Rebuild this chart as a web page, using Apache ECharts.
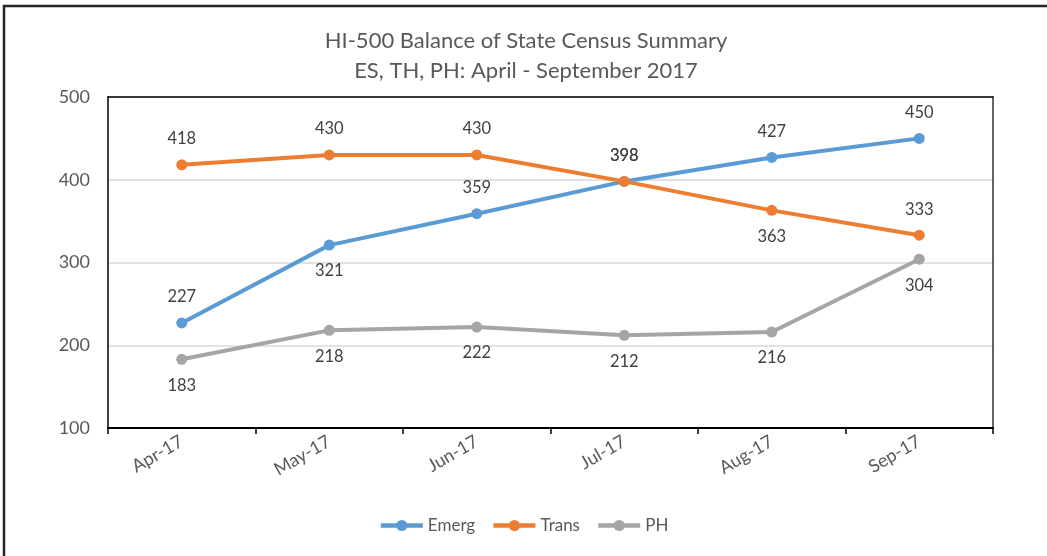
<!DOCTYPE html>
<html>
<head>
<meta charset="utf-8">
<script src="https://cdn.jsdelivr.net/npm/echarts@6/dist/echarts.min.js"></script>
<style>html,body{margin:0;padding:0;background:#fff;}#c{width:1047px;height:556px;}</style>
</head>
<body>
<div id="c"></div>
<script>
const categories = ['Apr-17','May-17','Jun-17','Jul-17','Aug-17','Sep-17'];
const emerg = [227, 321, 359, 398, 427, 450];
const trans = [418, 430, 430, 398, 363, 333];
const ph = [183, 218, 222, 212, 216, 304];
const yTicks = [100, 200, 300, 400, 500];

const emergPos = ['top','bottom','top','top','top','top'];
const transPos = ['top','top','top','top','bottom','top'];
const phPos = ['bottom','bottom','bottom','bottom','bottom','bottom'];

const FONT = 'Lato, "Open Sans", sans-serif';

function mk(name, vals, pos, color) {
  return {
    name: name,
    type: 'line',
    xAxisIndex: 0, yAxisIndex: 0,
    data: vals.map((v, i) => ({ value: v, label: { position: pos[i] } })),
    symbol: 'circle',
    symbolSize: 11,
    lineStyle: { width: 4, color: color },
    itemStyle: { color: color },
    label: { show: true, distance: 12, color: '#404040', fontSize: 16.5, fontFamily: FONT },
    emphasis: { disabled: true },
    animation: false
  };
}

const chart = echarts.init(document.getElementById('c'));
chart.setOption({
  backgroundColor: '#fff',
  animation: false,
  title: {
    text: 'HI-500 Balance of State Census Summary\nES, TH, PH: April - September 2017',
    left: 521, textAlign: 'center', top: 21,
    textStyle: { fontSize: 22, fontWeight: 'normal', color: '#595959', fontFamily: FONT, lineHeight: 30 }
  },
  graphic: [{
    type: 'rect', silent: true,
    shape: { x: 4, y: 6, width: 1200, height: 700 },
    style: { fill: 'none', stroke: '#262626', lineWidth: 2.5 }
  }],
  legend: {
    bottom: 17, left: 'center',
    itemWidth: 42, itemHeight: 14, itemGap: 16,
    lineStyle: { width: 4.5 },
    textStyle: { fontSize: 17, color: '#595959', fontFamily: FONT },
    data: ['Emerg','Trans','PH']
  },
  grid: { left: 108, right: 54, top: 97, bottom: 128, show: false, containLabel: false },
  xAxis: [{
    type: 'category', data: categories, boundaryGap: true,
    axisLine: { lineStyle: { color: '#000', width: 2 } },
    axisTick: { show: true, length: 6, lineStyle: { color: '#000', width: 1.5 } },
    axisLabel: { rotate: 30, margin: 12, fontSize: 18, color: '#595959', fontFamily: FONT }
  }, {
    type: 'category', data: categories, position: 'top', boundaryGap: true,
    axisLine: { lineStyle: { color: '#000', width: 1.5 } },
    axisTick: { show: false }, axisLabel: { show: false }, splitLine: { show: false }
  }],
  yAxis: [{
    type: 'value', min: yTicks[0], max: yTicks[yTicks.length - 1], interval: 100,
    axisLine: { show: true, lineStyle: { color: '#000', width: 1.5 } }, axisTick: { show: false },
    axisLabel: { fontSize: 18, color: '#595959', fontFamily: FONT, margin: 18 },
    splitLine: { lineStyle: { color: '#d9d9d9', width: 1.5 } }
  }, {
    type: 'value', position: 'right', min: yTicks[0], max: yTicks[yTicks.length - 1], interval: 100,
    axisLine: { show: true, lineStyle: { color: '#333', width: 1.5 } }, axisTick: { show: false },
    axisLabel: { show: false }, splitLine: { show: false }
  }],
  series: [
    mk('Emerg', emerg, emergPos, '#5B9BD5'),
    mk('Trans', trans, transPos, '#ED7D31'),
    mk('PH', ph, phPos, '#A5A5A5')
  ]
});
</script>
</body>
</html>
